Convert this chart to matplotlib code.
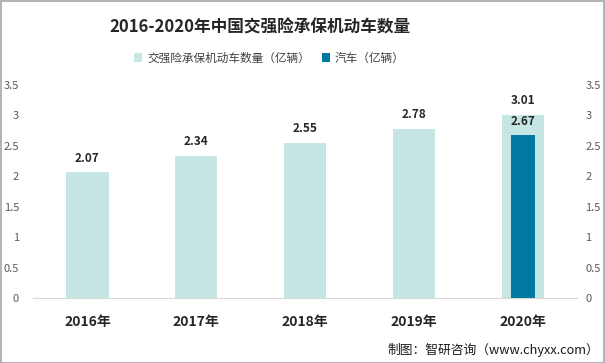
import numpy as np
import matplotlib.pyplot as plt
from matplotlib.patches import Rectangle

plt.rcParams['font.family'] = ['Noto Sans CJK SC', 'DejaVu Sans']

years = ['2016年', '2017年', '2018年', '2019年', '2020年']
vehicles = [2.07, 2.34, 2.55, 2.78, 3.01]
cars = [None, None, None, None, 2.67]
yticks = [0, 0.5, 1, 1.5, 2, 2.5, 3, 3.5]
ytick_labels = ['0', '0.5', '1', '1.5', '2', '2.5', '3', '3.5']

light = '#c6e6e4'
dark = '#00789f'
grey = '#595959'

fig = plt.figure(figsize=(6.05, 3.63), dpi=100)
fig.patches.append(Rectangle((0.001, 0.001), 0.997, 0.996, transform=fig.transFigure,
                             fill=False, edgecolor='#a6a6a6', linewidth=1.2))

ax = fig.add_axes([0.0545, 0.179, 0.8995, 0.587])
ax2 = ax.twinx()

x = np.arange(len(years))
b1 = ax.bar(x, vehicles, width=0.39, color=light, label='交强险承保机动车数量（亿辆）')
cx = [i for i, v in enumerate(cars) if v is not None]
cv = [v for v in cars if v is not None]
b2 = ax2.bar(cx, cv, width=0.22, color=dark, label='汽车（亿辆）')

for a in (ax, ax2):
    a.set_ylim(0, 3.5)
    a.set_yticks(yticks)
    a.set_yticklabels(ytick_labels)
    a.set_xlim(-0.5, len(years) - 0.5)
    for s in a.spines.values():
        s.set_visible(False)
    a.tick_params(axis='y', length=0, colors=grey, labelsize=8)
ax.spines['bottom'].set_visible(True)
ax.spines['bottom'].set_color('#d9d9d9')
ax.tick_params(axis='y', pad=10)
ax2.tick_params(axis='y', pad=6)

ax.set_xticks(x)
ax.set_xticklabels(years, fontsize=10, fontweight='bold', color='#262626')
ax.tick_params(axis='x', length=0, pad=12)

for i, v in enumerate(vehicles):
    ax.annotate(f'{v:.2f}', xy=(i, v), xytext=(0, 10), textcoords='offset points',
                ha='center', va='center', fontsize=8.5, fontweight='bold', color='#262626')
for i, v in zip(cx, cv):
    ax2.annotate(f'{v:.2f}', xy=(i, v), xytext=(0, 10), textcoords='offset points',
                 ha='center', va='center', fontsize=8.5, fontweight='bold', color='#262626')

fig.text(0.43, 0.925, '2016-2020年中国交强险承保机动车数量', ha='center', va='center',
         fontsize=12, fontweight='bold', color='#262626')

fig.legend(handles=[b1, b2], loc='center', bbox_to_anchor=(0.445, 0.84), ncol=2,
           frameon=False, fontsize=8.4, handlelength=0.7, handleheight=0.7,
           handletextpad=0.4, columnspacing=1.0, labelcolor='#404040')

fig.text(0.99, 0.035, '制图：智研咨询（www.chyxx.com）', ha='right', va='center',
         fontsize=9.2, color='#1a1a1a')

fig.savefig('out.png', dpi=100)
